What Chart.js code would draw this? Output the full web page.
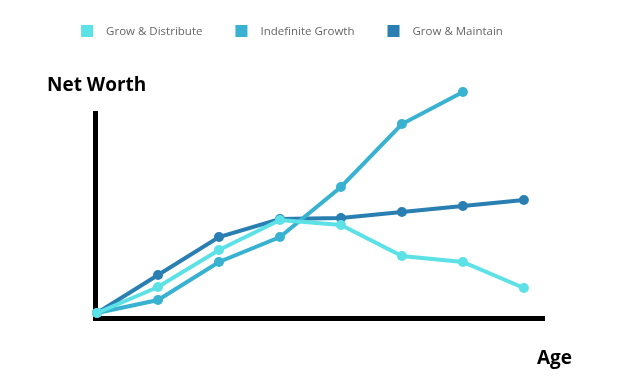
<!DOCTYPE html>
<html>
<head>
<meta charset="utf-8">
<script src="https://cdn.jsdelivr.net/npm/chart.js@4/dist/chart.umd.min.js"></script>
<style>
  html, body { margin: 0; padding: 0; background: #fff; }
  #wrap { width: 624px; height: 390px; }
</style>
</head>
<body>
<div id="wrap"><canvas id="chart"></canvas></div>
<script>
// Stages along the age axis (no tick labels shown in the original)
const stages = [0, 1, 2, 3, 4, 5, 6, 7];

// Net worth readings per stage (arbitrary units)
const growDistribute = [0, 2.6, 6.3, 9.3, 8.8, 5.7, 5.1, 2.5];
const indefiniteGrowth = [0, 1.3, 5.1, 7.6, 12.6, 18.9, 22.1, null];
const growMaintain = [0, 3.8, 7.6, 9.4, 9.5, 10.1, 10.7, 11.3];

const seriesNames = ['Grow & Distribute', 'Indefinite Growth', 'Grow & Maintain'];
const seriesColors = ['#5ce1e6', '#38b2d0', '#2a7fb2'];

const yTitle = 'Net Worth';
const xTitle = 'Age';

function toPoints(values) {
  return values.map((v, i) => ({ x: stages[i], y: v }));
}

// The y axis line stops below the top of the tallest line, so let the
// points draw past the chart area while datasets are rendered.
const looseArea = {
  id: 'looseArea',
  beforeDatasetsDraw(chart) {
    chart._savedTop = chart.chartArea.top;
    chart.chartArea.top = 0;
  },
  afterDatasetsDraw(chart) {
    chart.chartArea.top = chart._savedTop;
  },
};

// Legend + axis captions drawn on the canvas
const annotations = {
  id: 'annotations',
  afterDraw(chart) {
    const ctx = chart.ctx;
    const area = chart.chartArea;
    ctx.save();

    // legend row, centred
    ctx.font = '11.5px "Open Sans"';
    const box = 12, gap = 13, itemGap = 33;
    const items = chart.data.datasets.map((ds) => ({
      text: ds.label,
      color: ds.borderColor,
      w: box + gap + ctx.measureText(ds.label).width,
    }));
    const total = items.reduce((s, it) => s + it.w, 0) + itemGap * (items.length - 1);
    let x = (chart.width - total) / 2 - 20;
    const cy = 31;
    items.forEach((it) => {
      ctx.fillStyle = it.color;
      ctx.fillRect(x, cy - box / 2, box, box);
      ctx.fillStyle = '#666';
      ctx.textBaseline = 'middle';
      ctx.fillText(it.text, x + box + gap, cy + 1);
      x += it.w + itemGap;
    });

    // axis captions
    ctx.fillStyle = '#000';
    ctx.textBaseline = 'alphabetic';
    ctx.font = 'bold 19px "Open Sans"';
    ctx.fillText(yTitle, area.left - 48, area.top - 22);
    ctx.fillText(xTitle, area.right - 7, area.bottom + 46);
    ctx.restore();
  },
};

const ctx = document.getElementById('chart').getContext('2d');
new Chart(ctx, {
  type: 'line',
  data: {
    datasets: [growDistribute, indefiniteGrowth, growMaintain].map((vals, i) => ({
      label: seriesNames[i],
      data: toPoints(vals),
      borderColor: seriesColors[i],
      backgroundColor: seriesColors[i],
      pointBackgroundColor: seriesColors[i],
      pointBorderColor: seriesColors[i],
      borderWidth: 4,
      pointRadius: 5,
      pointBorderWidth: 0,
      tension: 0,
      clip: false,
      spanGaps: false,
    })),
  },
  options: {
    responsive: true,
    maintainAspectRatio: false,
    animation: false,
    layout: {
      padding: { top: 113, left: 95, right: 80, bottom: 72 },
    },
    plugins: {
      legend: { display: false },
      tooltip: { enabled: false },
    },
    scales: {
      x: {
        type: 'linear',
        min: -0.033,
        max: 7.33,
        ticks: { display: false },
        grid: { display: false, drawTicks: false },
        border: { display: true, color: '#000', width: 5 },
      },
      y: {
        min: -0.5,
        max: 20,
        ticks: { display: false },
        grid: { display: false, drawTicks: false },
        border: { display: true, color: '#000', width: 5 },
      },
    },
  },
  plugins: [looseArea, annotations],
});
</script>
</body>
</html>
